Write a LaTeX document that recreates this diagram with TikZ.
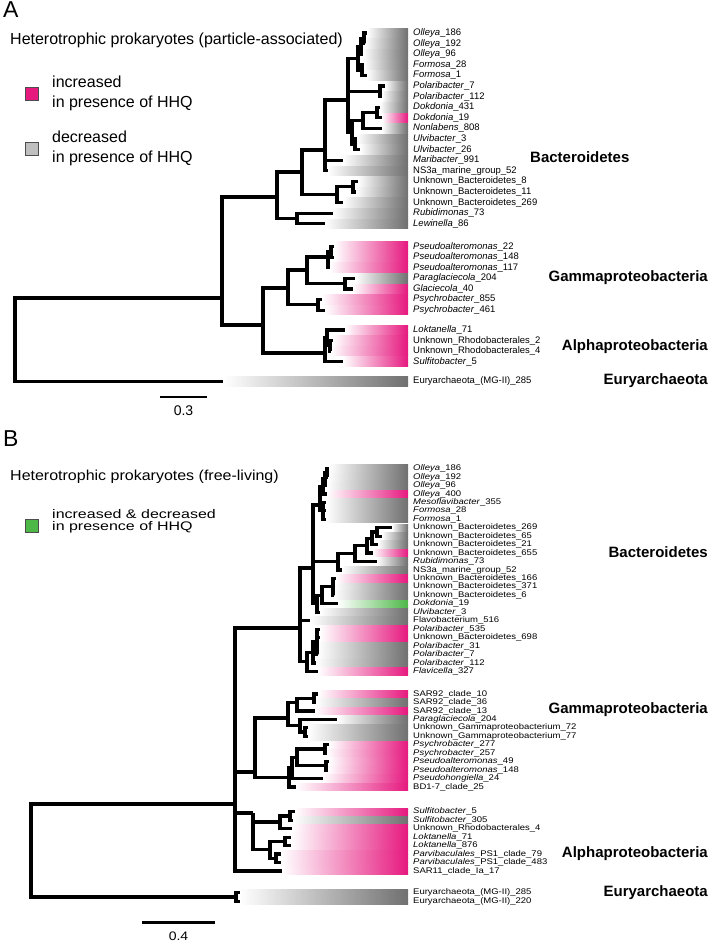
\documentclass[tikz,border=0pt]{standalone}
\usepackage{fontspec}
\setmainfont{Liberation Sans}
\usepackage{graphicx}
\usetikzlibrary{positioning}

\definecolor{uppink}{HTML}{E6197F}
\definecolor{downgray}{HTML}{707070}
\definecolor{bothgreen}{HTML}{4DB848}

\tikzset{
  branch/.style={line width=3.2pt,line join=miter},
  leaflabel/.style={anchor=west,inner sep=0pt,font=\fontsize{9.5}{10}\selectfont},
  groupname/.style={inner sep=0pt,font=\fontsize{15}{16}\selectfont\bfseries},
  legendbox/.style={draw=black!70,line width=0.5pt,minimum size=13pt,inner sep=0pt},
  legendtext/.style={anchor=west,align=left,inner sep=0pt,font=\fontsize{16}{20}\selectfont},
  panelletter/.style={anchor=north west,inner sep=0pt,font=\fontsize{23}{24}\selectfont},
  scalebar/.style={line width=2.8pt},
}

\newcommand{\barend}{408}
% leaf: name, y, tip x, colour, label
\newcommand{\leafA}[5]{%
  \shade[left color=white,right color=#4] (#3,{#2-4.8}) rectangle (\barend,{#2+4.8});
  \coordinate (#1) at (#3,#2);
  \node[leaflabel] (#1t) at (413,#2) {#5};}
\newcommand{\leafB}[5]{%
  \shade[left color=white,right color=#4] (#3,{#2-3.7}) rectangle (\barend,{#2+3.7});
  \coordinate (#1) at (#3,#2);
  \node[leaflabel] (#1t) at (413,#2) {\scalebox{1}[0.86]{#5}};}

\begin{document}
\begin{tikzpicture}[x=1pt,y=-1pt]
\useasboundingbox (0,0) rectangle (709,943);

%%%%% panel A
\node[panelletter] (letA) at (3,1) {A};
\node[anchor=west,inner sep=0pt,font=\fontsize{16}{18}\selectfont] (titleA) at (10,40)
  {Heterotrophic prokaryotes (particle-associated)};
\node[legendbox,fill=uppink] (keyup) at (32,93.5) {};
\node[legendtext] (keyupt) at (52,93) {increased\\in presence of HHQ};
\node[legendbox,fill=black!25] (keydown) at (32,148.5) {};
\node[legendtext] (keydownt) at (52,148) {decreased\\in presence of HHQ};

\leafA{a1}{33}{367}{downgray}{\textit{Olleya}\_186}
\leafA{a2}{43.6}{365}{downgray}{\textit{Olleya}\_192}
\leafA{a3}{54.2}{363}{downgray}{\textit{Olleya}\_96}
\leafA{a4}{64.8}{364}{downgray}{\textit{Formosa}\_28}
\leafA{a5}{75.4}{367}{downgray}{\textit{Formosa}\_1}
\leafA{a6}{86}{385}{downgray}{\textit{Polaribacter}\_7}
\leafA{a7}{96.6}{382}{downgray}{\textit{Polaribacter}\_112}
\leafA{a8}{107.2}{380}{downgray}{\textit{Dokdonia}\_431}
\leafA{a9}{117.8}{382}{uppink}{\textit{Dokdonia}\_19}
\leafA{a10}{128.4}{382}{downgray}{\textit{Nonlabens}\_808}
\leafA{a11}{139}{357}{downgray}{\textit{Ulvibacter}\_3}
\leafA{a12}{149.6}{360}{downgray}{\textit{Ulvibacter}\_26}
\leafA{a13}{160.2}{343}{downgray}{\textit{Maribacter}\_991}
\leafA{a14}{170.8}{328}{downgray}{NS3a\_marine\_group\_52}
\leafA{a15}{181.4}{358}{downgray}{Unknown\_Bacteroidetes\_8}
\leafA{a16}{192}{356}{downgray}{Unknown\_Bacteroidetes\_11}
\leafA{a17}{202.6}{343}{downgray}{Unknown\_Bacteroidetes\_269}
\leafA{a18}{213.2}{333}{downgray}{\textit{Rubidimonas}\_73}
\leafA{a19}{223.8}{325}{downgray}{\textit{Lewinella}\_86}
\leafA{a20}{246.5}{334}{uppink}{\textit{Pseudoalteromonas}\_22}
\leafA{a21}{257.1}{334}{uppink}{\textit{Pseudoalteromonas}\_148}
\leafA{a22}{267.7}{330}{uppink}{\textit{Pseudoalteromonas}\_117}
\leafA{a23}{278.3}{355}{downgray}{\textit{Paraglaciecola}\_204}
\leafA{a24}{288.9}{353}{uppink}{\textit{Glaciecola}\_40}
\leafA{a25}{299.5}{322}{uppink}{\textit{Psychrobacter}\_855}
\leafA{a26}{310.1}{325}{uppink}{\textit{Psychrobacter}\_461}
\leafA{a27}{330}{345}{uppink}{\textit{Loktanella}\_71}
\leafA{a28}{340.5}{333}{uppink}{Unknown\_Rhodobacterales\_2}
\leafA{a29}{351}{331}{uppink}{Unknown\_Rhodobacterales\_4}
\leafA{a30}{361.5}{343}{uppink}{\textit{Sulfitobacter}\_5}
\leafA{a31}{381.5}{223}{downgray}{Euryarchaeota\_(MG-II)\_285}

% inner nodes of tree A
\coordinate (aO1) at (364,38.3);
\coordinate (aO2) at (361,46.2);
\coordinate (aO3) at (362,70.1);
\coordinate (aO4) at (358,58.2);
\coordinate (aPol) at (380,91.3);
\coordinate (aDok) at (377,112.5);
\coordinate (aDN) at (363,120.5);
\coordinate (aUlv) at (355,144.3);
\coordinate (aDU) at (352,132.4);
\coordinate (aOPD) at (348,100);
\coordinate (aMar) at (325,150);
\coordinate (aUB1) at (353,186.7);
\coordinate (aUB) at (337,194.6);
\coordinate (aBa) at (302,172);
\coordinate (aRL) at (297,218.5);
\coordinate (aBac) at (277,197);
\coordinate (aPs1) at (331,251.8);
\coordinate (aPs) at (328,257);
\coordinate (aPG) at (345,283.6);
\coordinate (aG1) at (307,270);
\coordinate (aPsy) at (318,304.8);
\coordinate (aGam) at (288,288);
\coordinate (aA1) at (330,345.7);
\coordinate (aA2) at (327,337.9);
\coordinate (aAlp) at (325,353);
\coordinate (aGA) at (263,325);
\coordinate (aBGA) at (222,298);
\coordinate (rootA) at (15,340);

\foreach \p/\c in {aO1/a1,aO1/a2,aO2/aO1,aO2/a3,aO3/a4,aO3/a5,aO4/aO2,aO4/aO3,
    aPol/a6,aPol/a7,aDok/a8,aDok/a9,aDN/aDok,aDN/a10,aUlv/a11,aUlv/a12,
    aDU/aDN,aDU/aUlv,aOPD/aO4,aOPD/aPol,aOPD/aDU,aMar/aOPD,aMar/a13,aMar/a14,
    aUB1/a15,aUB1/a16,aUB/aUB1,aUB/a17,aBa/aMar,aBa/aUB,aRL/a18,aRL/a19,
    aBac/aBa,aBac/aRL,aPs1/a20,aPs1/a21,aPs/aPs1,aPs/a22,aPG/a23,aPG/a24,
    aG1/aPs,aG1/aPG,aPsy/a25,aPsy/a26,aGam/aG1,aGam/aPsy,aA1/a28,aA1/a29,
    aA2/a27,aA2/aA1,aAlp/aA2,aAlp/a30,aGA/aGam,aGA/aAlp,aBGA/aBac,aBGA/aGA,
    rootA/aBGA,rootA/a31}
  \draw[branch] (\p) |- (\c);

\node[groupname,anchor=west] (grpA1) at (530,157) {Bacteroidetes};
\node[groupname,anchor=east] (grpA2) at (708,278) {Gammaproteobacteria};
\node[groupname,anchor=east] (grpA3) at (708,347) {Alphaproteobacteria};
\node[groupname,anchor=east] (grpA4) at (708,381) {Euryarchaeota};

\coordinate (sbA1) at (160,397);
\coordinate (sbA2) at (207,397);
\draw[scalebar] (sbA1) -- (sbA2);
\node[font=\fontsize{14}{16}\selectfont] (sbAt) at (183.5,411) {0.3};

%%%%% panel B
\node[panelletter] (letB) at (3,430) {B};
\node[anchor=west,inner sep=0pt,font=\fontsize{16}{18}\selectfont] (titleB) at (10,477)
  {\scalebox{1}[0.9]{Heterotrophic prokaryotes (free-living)}};
\node[legendbox,fill=bothgreen] (keyboth) at (32,525.5) {};
\node[legendtext,font=\fontsize{16}{12}\selectfont] (keybotht) at (52,521)
  {\scalebox{1}[0.78]{increased \& decreased}\\\scalebox{1}[0.78]{in presence of HHQ}};

\leafB{b1}{468.5}{329}{downgray}{\textit{Olleya}\_186}
\leafB{b2}{477}{328}{downgray}{\textit{Olleya}\_192}
\leafB{b3}{485.4}{327}{downgray}{\textit{Olleya}\_96}
\leafB{b4}{493.9}{327}{uppink}{\textit{Olleya}\_400}
\leafB{b5}{502.3}{326}{downgray}{\textit{Mesoflavibacter}\_355}
\leafB{b6}{510.8}{326}{downgray}{\textit{Formosa}\_28}
\leafB{b7}{519.2}{326}{downgray}{\textit{Formosa}\_1}
\leafB{b8}{527.7}{392}{downgray}{Unknown\_Bacteroidetes\_269}
\leafB{b9}{536.1}{382}{downgray}{Unknown\_Bacteroidetes\_65}
\leafB{b10}{544.6}{378}{downgray}{Unknown\_Bacteroidetes\_21}
\leafB{b11}{553}{373}{uppink}{Unknown\_Bacteroidetes\_655}
\leafB{b12}{561.5}{377}{downgray}{\textit{Rubidimonas}\_73}
\leafB{b13}{569.9}{342}{downgray}{NS3a\_marine\_group\_52}
\leafB{b14}{578.4}{336}{uppink}{Unknown\_Bacteroidetes\_166}
\leafB{b15}{586.8}{335}{downgray}{Unknown\_Bacteroidetes\_371}
\leafB{b16}{595.3}{334}{downgray}{Unknown\_Bacteroidetes\_6}
\leafB{b17}{603.7}{338}{bothgreen}{\textit{Dokdonia}\_19}
\leafB{b18}{612.2}{320}{downgray}{\textit{Ulvibacter}\_3}
\leafB{b19}{620.6}{310}{downgray}{Flavobacterium\_516}
\leafB{b20}{629.1}{320}{uppink}{\textit{Polaribacter}\_535}
\leafB{b21}{637.5}{320}{uppink}{Unknown\_Bacteroidetes\_698}
\leafB{b22}{646}{318}{downgray}{\textit{Polaribacter}\_31}
\leafB{b23}{654.4}{318}{downgray}{\textit{Polaribacter}\_7}
\leafB{b24}{662.9}{316}{downgray}{\textit{Polaribacter}\_112}
\leafB{b25}{671.3}{318}{uppink}{\textit{Flavicella}\_327}
\leafB{b26}{694}{318}{uppink}{SAR92\_clade\_10}
\leafB{b27}{702.5}{316}{downgray}{SAR92\_clade\_36}
\leafB{b28}{710.9}{315}{uppink}{SAR92\_clade\_13}
\leafB{b29}{719.4}{337}{downgray}{\textit{Paraglaciecola}\_204}
\leafB{b30}{727.8}{308}{downgray}{Unknown\_Gammaproteobacterium\_72}
\leafB{b31}{736.3}{308}{downgray}{Unknown\_Gammaproteobacterium\_77}
\leafB{b32}{744.7}{329}{uppink}{\textit{Psychrobacter}\_277}
\leafB{b33}{753.2}{327}{uppink}{\textit{Psychrobacter}\_257}
\leafB{b34}{761.6}{329}{uppink}{\textit{Pseudoalteromonas}\_49}
\leafB{b35}{770.1}{328}{uppink}{\textit{Pseudoalteromonas}\_148}
\leafB{b36}{778.5}{323}{uppink}{\textit{Pseudohongiella}\_24}
\leafB{b37}{787}{296}{uppink}{BD1-7\_clade\_25}
\leafB{b38}{811.7}{295}{uppink}{\textit{Sulfitobacter}\_5}
\leafB{b39}{820.2}{293}{downgray}{\textit{Sulfitobacter}\_305}
\leafB{b40}{828.6}{292}{uppink}{Unknown\_Rhodobacterales\_4}
\leafB{b41}{837.1}{291}{uppink}{\textit{Loktanella}\_71}
\leafB{b42}{845.5}{291}{uppink}{\textit{Loktanella}\_876}
\leafB{b43}{854}{281}{uppink}{\textit{Parvibaculales}\_PS1\_clade\_79}
\leafB{b44}{862.4}{281}{uppink}{\textit{Parvibaculales}\_PS1\_clade\_483}
\leafB{b45}{870.9}{282}{uppink}{SAR11\_clade\_Ia\_17}
\leafB{b46}{892.7}{240}{downgray}{Euryarchaeota\_(MG-II)\_285}
\leafB{b47}{901.1}{240}{downgray}{Euryarchaeota\_(MG-II)\_220}

% inner nodes of tree B
\coordinate (bO1) at (327,472.7);
\coordinate (bO2) at (325,479);
\coordinate (bO3) at (323,486.5);
\coordinate (bO5) at (323,510.8);
\coordinate (bO4) at (320,505);
\coordinate (bU1) at (377,531.9);
\coordinate (bU2) at (372,538.2);
\coordinate (bU3) at (367,545.6);
\coordinate (bU4) at (355,553.5);
\coordinate (bU5) at (338,561.7);
\coordinate (bU6) at (333,586.8);
\coordinate (bDk) at (322,595.3);
\coordinate (bDU) at (317,603.7);
\coordinate (bOU) at (313,568);
\coordinate (bP1) at (317,641.8);
\coordinate (bP2) at (313,652.3);
\coordinate (bP3) at (307,661.8);
\coordinate (bBac) at (300,628);
\coordinate (bS1) at (314,698.2);
\coordinate (bS) at (297,702.4);
\coordinate (bUG) at (305,732);
\coordinate (bPG) at (300,725.7);
\coordinate (bG1) at (288,718);
\coordinate (bPs1) at (325,749);
\coordinate (bPs2) at (326,765.8);
\coordinate (bPP) at (297,757.4);
\coordinate (bPH) at (292,768);
\coordinate (bPB) at (289,777.5);
\coordinate (bGam) at (255,772);
\coordinate (bAs) at (290,816);
\coordinate (bAsl) at (280,822);
\coordinate (bAl) at (285,841.3);
\coordinate (bPv) at (276,858.2);
\coordinate (bPv2) at (270,849.5);
\coordinate (bAlp) at (253,813);
\coordinate (bT) at (235,804);
\coordinate (bE) at (236,896.9);
\coordinate (rootB) at (31,851);

\foreach \p/\c in {bO1/b1,bO1/b2,bO2/bO1,bO2/b3,bO3/bO2,bO3/b4,bO5/b5,bO5/b6,bO5/b7,
    bO4/bO3,bO4/bO5,bU1/b8,bU1/b9,bU2/bU1,bU2/b10,bU3/bU2,bU3/b11,bU4/bU3,bU4/b12,
    bU5/bU4,bU5/b13,bU6/b14,bU6/b15,bU6/b16,bDk/bU6,bDk/b17,bDU/bDk,bDU/b18,
    bOU/bO4,bOU/bU5,bOU/bDU,
    bP1/b20,bP1/b21,bP1/b22,bP1/b23,bP2/bP1,bP2/b24,bP3/bP2,bP3/b25,
    bBac/bOU,bBac/b19,bBac/bP3,
    bS1/b26,bS1/b27,bS/bS1,bS/b28,bUG/b30,bUG/b31,bPG/b29,bPG/bUG,bG1/bS,bG1/bPG,
    bPs1/b32,bPs1/b33,bPs2/b34,bPs2/b35,bPP/bPs1,bPP/bPs2,bPH/bPP,bPH/b36,
    bPB/bPH,bPB/b37,bGam/bG1,bGam/bPB,
    bAs/b38,bAs/b39,bAsl/bAs,bAsl/b40,bAl/b41,bAl/b42,bPv/b43,bPv/b44,
    bPv2/bAl,bPv2/bPv,bAlp/bAsl,bAlp/bPv2,
    bT/bBac,bT/bGam,bT/bAlp,bT/b45,bE/b46,bE/b47,rootB/bT,rootB/bE}
  \draw[branch] (\p) |- (\c);

\node[groupname,anchor=east] (grpB1) at (708,552) {Bacteroidetes};
\node[groupname,anchor=east] (grpB2) at (708,710) {Gammaproteobacteria};
\node[groupname,anchor=east] (grpB3) at (708,854) {Alphaproteobacteria};
\node[groupname,anchor=east] (grpB4) at (708,893) {Euryarchaeota};

\coordinate (sbB1) at (142,922.5);
\coordinate (sbB2) at (215,922.5);
\draw[scalebar] (sbB1) -- (sbB2);
\node[font=\fontsize{14}{16}\selectfont] (sbBt) at (178.5,936) {\scalebox{1}[0.88]{0.4}};
\end{tikzpicture}
\end{document}
